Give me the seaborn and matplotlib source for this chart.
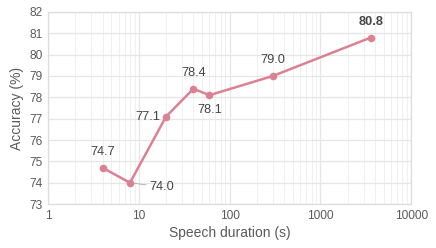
import matplotlib
matplotlib.use("Agg")
import matplotlib.pyplot as plt
import seaborn as sns
import pandas as pd
from matplotlib.ticker import LogLocator, FixedLocator, FuncFormatter

# data
duration = [4, 8, 20, 40, 60, 300, 3600]
accuracy = [74.7, 74.0, 77.1, 78.4, 78.1, 79.0, 80.8]
labels = ["74.7", "74.0", "77.1", "78.4", "78.1", "79.0", "80.8"]
x_ticks = [1, 10, 100, 1000, 10000]
y_ticks = [73, 74, 75, 76, 77, 78, 79, 80, 81, 82]

df = pd.DataFrame({"duration": duration, "accuracy": accuracy})

sns.set_theme(style="white")
plt.rcParams['font.family'] = ['Liberation Sans', 'DejaVu Sans']

line_col = "#da8294"
text_col = "#5a5a5a"
grid_col = "#e6e6e6"

fig, ax = plt.subplots(figsize=(4.36, 2.48), dpi=100)
fig.subplots_adjust(left=0.110, right=0.943, bottom=0.177, top=0.952)

sns.lineplot(data=df, x="duration", y="accuracy", ax=ax, color=line_col,
             linewidth=1.8, marker="o", markersize=5.5, markeredgewidth=0,
             zorder=3)

ax.set_xscale("log")
ax.set_xlim(1, 10000)
ax.set_ylim(73, 82)
ax.xaxis.set_major_locator(FixedLocator(x_ticks))
ax.xaxis.set_major_formatter(FuncFormatter(lambda v, p: f"{int(v)}"))
ax.xaxis.set_minor_locator(LogLocator(base=10, subs=range(2, 10)))
ax.yaxis.set_major_locator(FixedLocator(y_ticks))

ax.grid(which="major", color=grid_col, linewidth=0.9, zorder=0)
ax.grid(which="minor", axis="x", color="#f0f0f0", linewidth=0.7, zorder=0)
ax.set_axisbelow(True)

for s in ax.spines.values():
    s.set_color("#dddddd")
    s.set_linewidth(0.9)

ax.tick_params(axis="both", which="both", length=0, colors=text_col,
               labelsize=8.6, pad=4)
ax.set_xlabel("Speech duration (s)", fontsize=10, color=text_col, labelpad=3)
ax.set_ylabel("Accuracy (%)", fontsize=10, color=text_col, labelpad=4)

# point labels
offsets = [(0, 7, "center", "bottom"), (14, -3, "left", "center"),
           (-4, 0, "right", "center"), (0, 7, "center", "bottom"),
           (0, -6, "center", "top"), (0, 7, "center", "bottom"),
           (0, 7, "center", "bottom")]
for i, (dx, dy, ha, va) in enumerate(offsets):
    weight = "bold" if i == len(labels) - 1 else "normal"
    if i == 1:
        ax.annotate(labels[i], (duration[i], accuracy[i]), xytext=(dx, dy),
                    textcoords="offset points", ha=ha, va=va, fontsize=9.2,
                    color="#444444",
                    arrowprops=dict(arrowstyle="-", color="#aaaaaa",
                                    lw=0.6, shrinkA=0, shrinkB=3))
    else:
        ax.annotate(labels[i], (duration[i], accuracy[i]), xytext=(dx, dy),
                    textcoords="offset points", ha=ha, va=va, fontsize=9.2,
                    color="#444444", fontweight=weight)

fig.savefig("out.png", dpi=100)
